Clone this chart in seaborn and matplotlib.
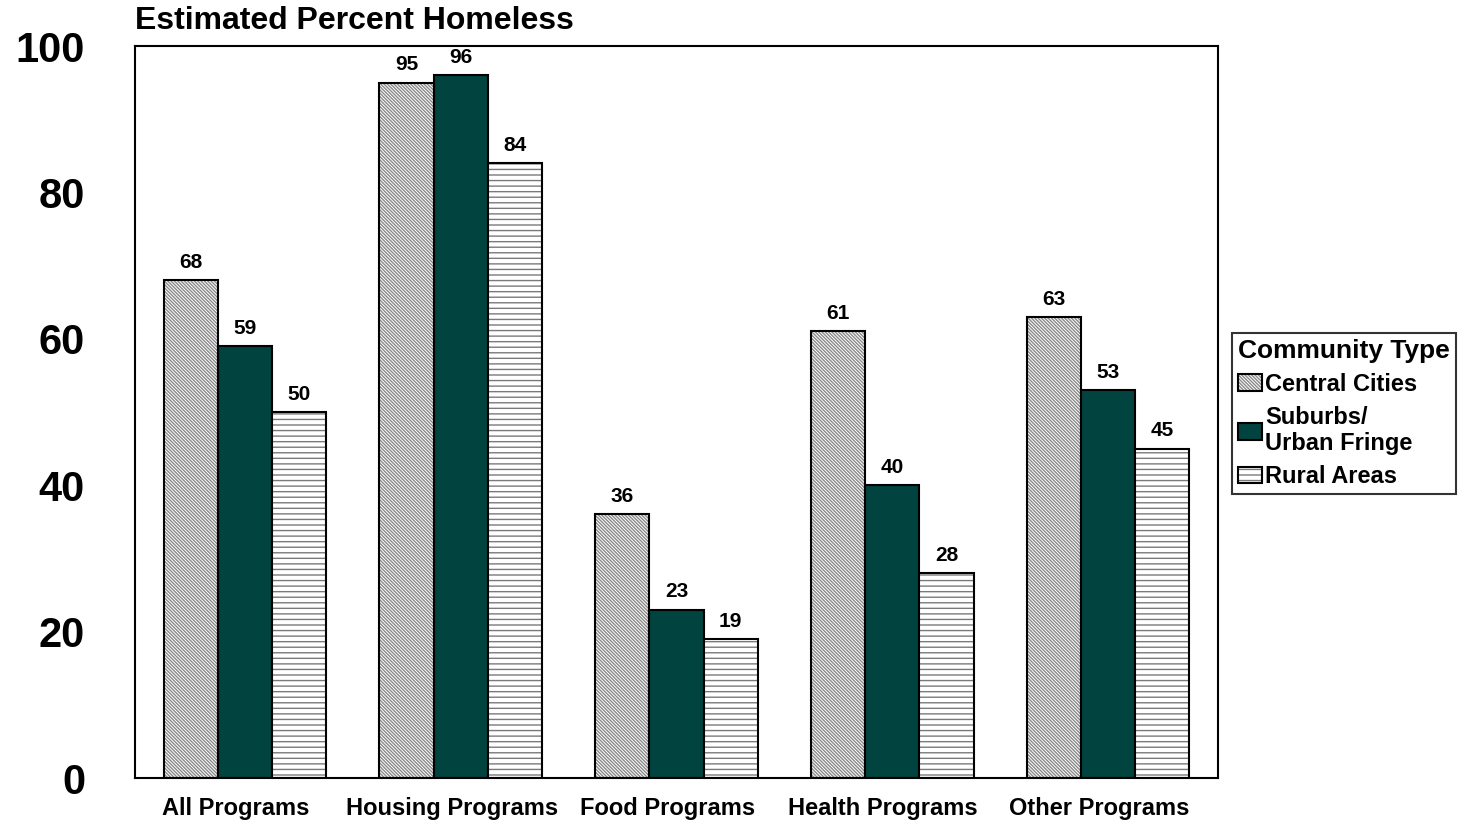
import matplotlib
matplotlib.use("Agg")
import matplotlib.pyplot as plt
import matplotlib.colors as mcolors
import matplotlib.transforms as mtransforms
import seaborn as sns
import pandas as pd
from matplotlib.patches import Patch

categories = ["All Programs", "Housing Programs", "Food Programs", "Health Programs", "Other Programs"]
series_names = ["Central Cities", "Suburbs/\nUrban Fringe", "Rural Areas"]
central = [68, 95, 36, 61, 63]
suburbs = [59, 96, 23, 40, 53]
rural = [50, 84, 19, 28, 45]
y_ticks = [0, 20, 40, 60, 80, 100]
title = "Estimated Percent Homeless"
legend_title = "Community Type"

sns.set_style("white")
plt.rcParams["font.family"] = ["Liberation Sans", "DejaVu Sans"]
plt.rcParams["hatch.linewidth"] = 1.0
for k in ["text.color", "axes.labelcolor", "xtick.color", "ytick.color"]:
    plt.rcParams[k] = "black"

rows = []
for name, vals in zip(series_names, [central, suburbs, rural]):
    for c, v in zip(categories, vals):
        rows.append({"Program": c, "Type": name, "Value": v})
df = pd.DataFrame(rows)

fig = plt.figure(figsize=(14.71, 8.24), dpi=100)
ax = fig.add_axes([135/1471, 1-778/824, (1218-135)/1471, (778-46)/824])

colors = ["white", "#00433f", "white"]
hatches = ["\\" * 10, None, "---"]
hatch_colors = ["#8a8a8a", None, "#7a7a7a"]

sns.barplot(data=df, x="Program", y="Value", hue="Type", order=categories,
            hue_order=series_names, palette=colors, width=0.755, gap=0,
            edgecolor="black", linewidth=1.5, saturation=1, legend=False, ax=ax)

for cont, h, hc in zip(ax.containers, hatches, hatch_colors):
    for p in cont:
        p.set_edgecolor("black")
        if h:
            p.set_hatch(h)
            p._hatch_color = mcolors.to_rgba(hc)
    ax.bar_label(cont, padding=6, fontsize=15, fontweight="bold")

ax.set_ylim(0, 100)
ax.set_xlim(-0.51, 4.51)
ax.set_yticks(y_ticks)
ax.set_yticklabels([str(t) for t in y_ticks], fontsize=30, fontweight="bold")
ax.tick_params(axis="y", length=0, pad=36)
ax.tick_params(axis="x", length=0, pad=14, labelsize=17)
shift = mtransforms.ScaledTranslation(-9/100, 0, fig.dpi_scale_trans)
for lab in ax.get_xticklabels():
    lab.set_fontweight("bold")
    lab.set_transform(lab.get_transform() + shift)
ax.set_xlabel("")
ax.set_ylabel("")
for s in ax.spines.values():
    s.set_visible(True)
    s.set_color("black")
    s.set_linewidth(1.5)

fig.text(135/1471, 1-6/824, title, fontsize=23, fontweight="bold", va="top", ha="left")

handles = []
for name, c, h in zip(series_names, colors, hatches):
    handles.append(Patch(facecolor=c, edgecolor="black", hatch=h, linewidth=1.5, label=name))
leg = fig.legend(handles=handles, loc="upper left", bbox_to_anchor=(1232/1471, 1-333/824),
                 title=legend_title, fancybox=False, frameon=True, edgecolor="black",
                 prop={"size": 17, "weight": "bold"}, title_fontproperties={"size": 19, "weight": "bold"},
                 handlelength=1.0, handleheight=0.7, handletextpad=0.15, borderpad=0.25,
                 labelspacing=0.42, borderaxespad=0, alignment="left")
leg.get_frame().set_linewidth(1.5)
for p, hc in zip(leg.get_patches(), hatch_colors):
    if hc:
        p._hatch_color = mcolors.to_rgba(hc)

fig.savefig("out.png", dpi=100)
